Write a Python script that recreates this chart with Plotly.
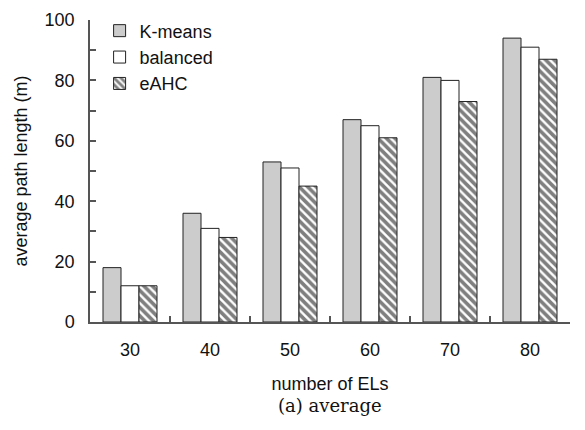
import plotly.graph_objects as go

# Average path length per number of ELs, by clustering method
categories = ["30", "40", "50", "60", "70", "80"]
kmeans = [18, 36, 53, 67, 81, 94]
balanced = [12, 31, 51, 65, 80, 91]
eahc = [12, 28, 45, 61, 73, 87]

font_main = "Liberation Sans, Arial, sans-serif"
edge = dict(color="#222222", width=1)

fig = go.Figure()
fig.add_trace(go.Bar(name="K-means", x=categories, y=kmeans,
                     marker=dict(color="#cccccc", line=edge)))
fig.add_trace(go.Bar(name="balanced", x=categories, y=balanced,
                     marker=dict(color="white", line=edge)))
fig.add_trace(go.Bar(name="eAHC", x=categories, y=eahc,
                     marker=dict(color="white", line=edge,
                                 pattern=dict(shape="\\", fgcolor="black",
                                              bgcolor="white", size=6,
                                              solidity=0.6))))

fig.update_layout(
    width=585, height=430,
    margin=dict(l=90, r=15, t=10, b=108),
    paper_bgcolor="white", plot_bgcolor="white",
    barmode="group", bargap=0.325, bargroupgap=0,
    font=dict(family=font_main, size=18, color="#111111"),
    showlegend=True,
    legend=dict(x=0.02, y=1.025, xanchor="left", yanchor="top",
                bgcolor="rgba(0,0,0,0)", font=dict(size=18),
                itemclick=False, tracegroupgap=0),
    xaxis=dict(type="category", showline=True, linecolor="#555555",
               linewidth=1.5, ticks="inside", tickson="boundaries",
               ticklen=6, tickcolor="#555555", tickwidth=1.5,
               showgrid=False, zeroline=False, ticklabelstandoff=11,
               title=dict(text="number of ELs", standoff=18,
                          font=dict(size=18))),
    yaxis=dict(range=[0, 100], showline=True, linecolor="#555555",
               linewidth=1.5, ticks="inside", ticklen=6,
               tickcolor="#555555", tickwidth=1.5, dtick=20,
               minor=dict(dtick=10, ticks="inside", ticklen=6,
                          tickcolor="#555555", tickwidth=1.5),
               showgrid=False, zeroline=False, ticklabelstandoff=10,
               title=dict(text="average path length (m)", standoff=12,
                          font=dict(size=18))),
)

fig.add_annotation(text="(a) average", xref="paper", yref="paper",
                   x=0.5, y=-0.275, xanchor="center", yanchor="middle",
                   showarrow=False,
                   font=dict(family="DejaVu Serif, serif", size=18,
                             color="#111111"))

fig.write_html("out.html")
